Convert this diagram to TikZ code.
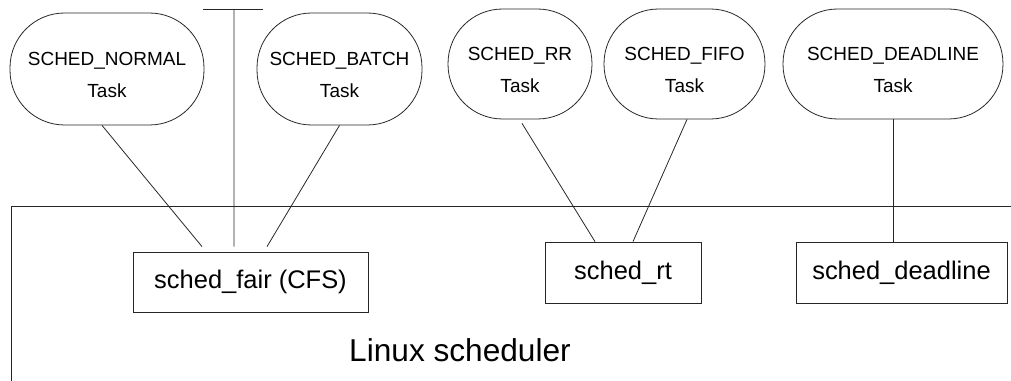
\documentclass[tikz,border=0pt]{standalone}
\usepackage{fontspec}
\setmainfont{Liberation Sans}
\usetikzlibrary{positioning}

\begin{document}
\begin{tikzpicture}[x=0.02cm,y=-0.02cm,
    line width=0.45pt, draw=black!85,
    task/.style={draw, rounded corners=1.09cm, align=center, inner sep=0pt,
        font=\fontsize{10.8}{18}\selectfont},
    sched/.style={draw, minimum height=1.2cm, font=\fontsize{14.5}{17}\selectfont}]
    \useasboundingbox (0,0) rectangle (1011,381);

    % policies (user side)
    \node[task, minimum width=3.88cm, minimum height=2.24cm] (NORMAL) at (107,69) {\rule{0pt}{14pt}SCHED\_NORMAL\\Task};
    \node[task, minimum width=3.3cm, minimum height=2.24cm] (BATCH) at (339.5,69) {\rule{0pt}{14pt}SCHED\_BATCH\\Task};
    \node[task, minimum width=2.88cm, minimum height=2.2cm] (RR) at (520,64) {\rule{0pt}{14pt}SCHED\_RR\\Task};
    \node[task, minimum width=3.22cm, minimum height=2.2cm] (FIFO) at (684.5,64) {\rule{0pt}{14pt}SCHED\_FIFO\\Task};
    \node[task, minimum width=4.4cm, minimum height=2.2cm] (DEADLINE) at (893,64) {\rule{0pt}{14pt}SCHED\_DEADLINE\\Task};
    \coordinate (stubL) at (203,9);
    \coordinate (stub) at (234,9);
    \coordinate (stubR) at (263,9);

    % scheduler classes
    \coordinate (frameNE) at (1011,206);
    \coordinate (frameSW) at (11,381);
    \node[sched, minimum width=4.7cm] (fair) at (250.5,282) {sched\_fair (CFS)};
    \node[sched, minimum width=3.12cm, minimum height=1.22cm] (rt) at (623,272.5) {sched\_rt};
    \node[sched, minimum width=4.22cm, minimum height=1.22cm] (dl) at (901.5,272.5) {sched\_deadline};
    \node[font=\fontsize{18}{21}\selectfont] (linux) at (460,350) {Linux scheduler};

    \draw (frameNE) -| (frameSW);
    \draw (stubL) -- (stubR);
    \draw ([xshift=-0.1cm]NORMAL.south) -- ([xshift=-0.97cm,yshift=0.1cm]fair.north);
    \draw (stub) -- ([xshift=-0.33cm,yshift=0.1cm]fair.north);
    \draw (BATCH.south) -- ([xshift=0.33cm,yshift=0.1cm]fair.north);
    \draw ([xshift=0.04cm,yshift=-0.08cm]RR.south) -- ([xshift=-0.56cm]rt.north);
    \draw ([xshift=0.05cm]FIFO.south) -- ([xshift=0.2cm]rt.north);
    \draw (DEADLINE.south) -- (DEADLINE.south |- dl.north);
\end{tikzpicture}
\end{document}
